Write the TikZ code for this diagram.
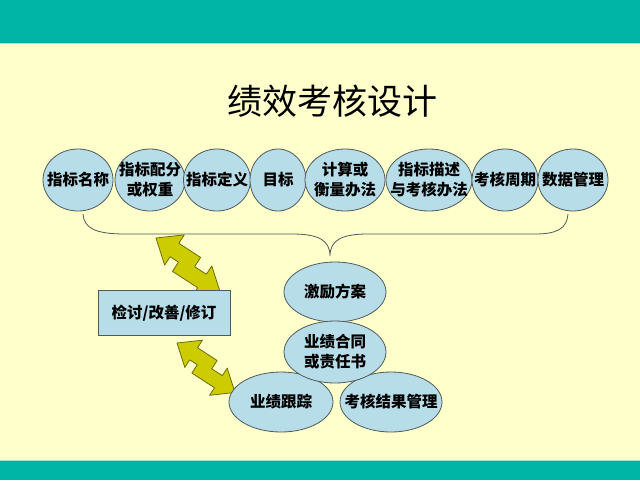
\documentclass[tikz,border=0pt]{standalone}
\usepackage{fontspec}
\usepackage{xcolor}
\usetikzlibrary{shapes.geometric}
\newfontfamily\cjk{Noto Sans CJK SC}
\definecolor{slidebg}{RGB}{255,255,204}
\definecolor{slideteal}{RGB}{0,180,166}
\definecolor{slidepale}{RGB}{160,225,205}
\definecolor{kpiblue}{RGB}{183,221,232}
\definecolor{kpiline}{RGB}{80,90,90}
\definecolor{kpiolive}{RGB}{204,204,0}
\definecolor{kpioliveline}{RGB}{110,110,0}

% zigzag double arrow: tip position, scale
\newcommand{\kpiarrow}[2]{%
  \begin{scope}[shift={#1},rotate=-33,scale=#2]
    \filldraw[fill=kpiolive,draw=kpioliveline,line width=0.8pt,line join=round]
      (0,0) -- (22,-18) -- (22,-8) -- (48,-8) -- (48,3) -- (62,3)
      -- (62,-7) -- (84,11) -- (62,29) -- (62,19) -- (32,19) -- (32,8)
      -- (22,8) -- (22,18) -- cycle;
  \end{scope}}

\tikzset{
  kpi/.style={ellipse,draw=kpiline,fill=kpiblue,line width=0.8pt,inner sep=-22pt,
    align=center,font=\cjk\bfseries\fontsize{15.5}{20}\selectfont},
  review/.style={rectangle,draw=kpiline,fill=kpiblue,line width=0.8pt,inner sep=0pt,
    minimum width=132,minimum height=45,font=\cjk\bfseries\fontsize{15.5}{20}\selectfont}
}

\begin{document}
\begin{tikzpicture}[x=1pt,y=-1pt]
    \useasboundingbox (0,0) rectangle (640,480);
    % slide background
    \fill[slidebg] (0,0) rectangle (640,480);
    \fill[slideteal] (0,0) rectangle (640,43);
    \draw[slidepale,line width=1pt] (0,43.5) -- (640,43.5);
    \fill[slideteal] (0,461) rectangle (640,480);
    \draw[slidepale,line width=1pt] (0,460.5) -- (640,460.5);

    % title
    \node (title) at (332,101) {\cjk\fontsize{35}{40}\selectfont 绩效考核设计};

    % row of indicators
    \node[kpi,minimum width=70,minimum height=62] (name) at (78,180) {指标名称};
    \node[kpi,minimum width=70,minimum height=62] (weight) at (150,180) {指标配分\\或权重};
    \node[kpi,minimum width=67,minimum height=62] (define) at (217,180) {指标定义};
    \node[kpi,minimum width=56,minimum height=62] (target) at (278,180) {目标};
    \node[kpi,minimum width=80,minimum height=62] (calc) at (345,180) {计算或\\衡量办法};
    \node[kpi,minimum width=86,minimum height=62] (method) at (429,180) {指标描述\\与考核办法};
    \node[kpi,minimum width=66,minimum height=62] (period) at (505,180) {考核周期};
    \node[kpi,minimum width=70,minimum height=62] (data) at (573,180) {数据管理};

    % brace under the row
    \draw[kpiline,line width=0.8pt] (83,214) .. controls (84,228) and (95,234) .. (125,234)
      -- (292,234) .. controls (318,234) and (330,240) .. (330,256)
      .. controls (330,240) and (342,234) .. (368,234)
      -- (535,234) .. controls (558,234) and (567,228) .. (568,214);

    % review box and arrows
    \kpiarrow{(156,238)}{1}
    \kpiarrow{(177,343)}{0.9}
    \node[review] (review) at (164,313) {检讨/改善/修订};

    % cycle
    \node[kpi,minimum width=102,minimum height=60] (reward) at (335,292) {激励方案};
    \node[kpi,minimum width=104,minimum height=60] (track) at (281,402) {业绩跟踪};
    \node[kpi,minimum width=102,minimum height=60] (result) at (391,402) {考核结果管理};
    \node[kpi,minimum width=102,minimum height=62] (contract) at (335,352) {业绩合同\\或责任书};
\end{tikzpicture}
\end{document}
